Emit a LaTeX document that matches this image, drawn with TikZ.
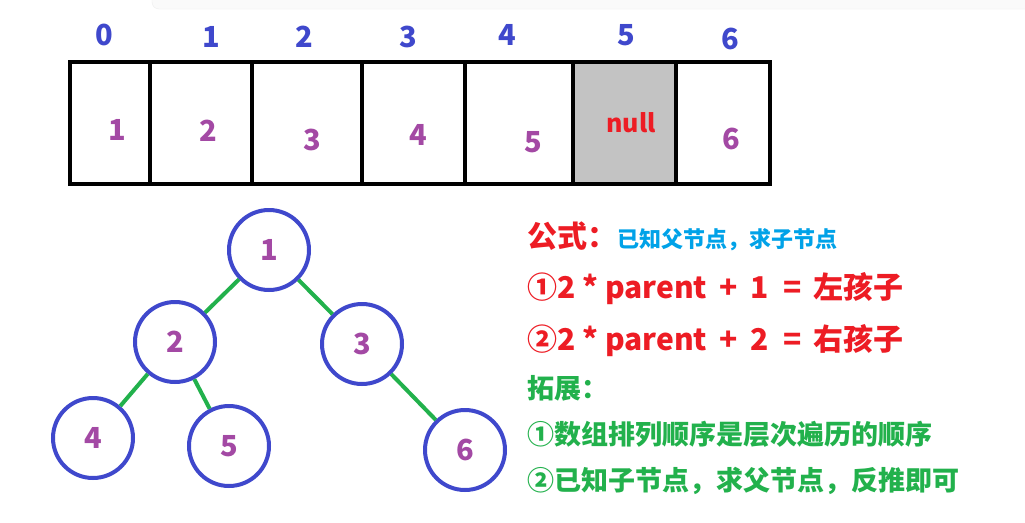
\documentclass[tikz,border=0pt]{standalone}
\usepackage{fontspec}
\setmainfont{Noto Sans CJK SC}
\usetikzlibrary{positioning}
\definecolor{idxblue}{RGB}{63,72,204}
\definecolor{valpurple}{RGB}{163,73,164}
\definecolor{linegreen}{RGB}{34,177,76}
\definecolor{textred}{RGB}{237,28,36}
\definecolor{skyblue}{RGB}{0,162,232}
\definecolor{cellgray}{RGB}{195,195,195}
\newcommand{\px}[1]{\bfseries\fontsize{#1}{#1}\selectfont}
\newcommand{\gap}[1]{\hspace{#1pt}}

\begin{document}
\begin{tikzpicture}[x=1pt,y=-1pt,
  idx/.style={text=idxblue,font=\px{29}},
  val/.style={text=valpurple,font=\px{29}},
  tnode/.style={circle,draw=idxblue,line width=4pt,minimum size=80pt,inner sep=0pt,text=valpurple,font=\px{29}},
  branch/.style={linegreen,line width=4pt},
  note/.style={anchor=base west,inner sep=0pt,font=\px{#1}},note/.default=27]
\useasboundingbox[fill=white] (0,0) rectangle (1025,522);
\draw[rounded corners=7pt,fill=gray!4,draw=gray!14] (152,-12) rectangle (1040,9);
% array
\fill[cellgray] (573,62) rectangle (676,184);
\draw[line width=4pt] (70,62) rectangle (770,184);
\foreach \x in {150,252,362,465,573,676}{\draw[line width=4pt] (\x,60) -- (\x,186);}
\foreach \i/\x/\y in {0/104/35,1/211/37,2/304/37,3/408/37,4/507/35,5/626/35,6/730/39}{\node[idx] (i\i) at (\x,\y) {\i};}
\foreach \i/\v/\x/\y in {0/1/117/130,1/2/208/131,2/3/312/140,3/4/418/135,4/5/533/142,6/6/731/139}{\node[val] (v\i) at (\x,\y) {\v};}
\node[text=textred,font=\px{25}] (v5) at (631,123) {null};
% tree
\node[tnode] (n1) at (269,250) {1};
\node[tnode] (n2) at (175,342) {2};
\node[tnode] (n3) at (362,344) {3};
\node[tnode] (n4) at (93,438) {4};
\node[tnode] (n5) at (229,446) {5};
\node[tnode] (n6) at (465,450) {6};
\foreach \a/\b in {n1/n2,n1/n3,n2/n4,n2/n5,n3/n6}{\draw[branch] (\a) -- (\b);}
% notes
\node[note=30,text=textred] (f0) at (527,247) {公式：};
\node[note=22,text=skyblue] (f1) at (f0.base east) {已知父节点，求子节点};
\node[note=30,text=textred] (f2) at (527,298) {①2 * parent\gap{12}+\gap{13}1\gap{15}=\gap{12}左孩子};
\node[note=30,text=textred] (f3) at (527,350) {②2 * parent\gap{12}+\gap{13}2\gap{15}=\gap{12}右孩子};
\node[note,text=linegreen] (e0) at (527,398) {拓展：};
\node[note,text=linegreen] (e1) at (527,444) {①数组排列顺序是层次遍历的顺序};
\node[note,text=linegreen] (e2) at (527,490) {②已知子节点，求父节点，反推即可};
\end{tikzpicture}
\end{document}
